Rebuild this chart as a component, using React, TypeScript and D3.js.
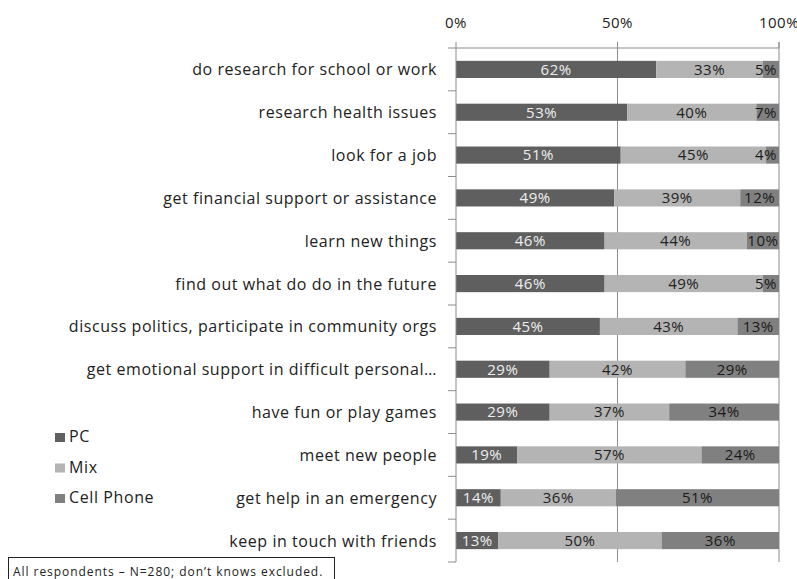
import * as React from 'react';
import {useEffect, useRef} from 'react';
import * as d3 from 'd3';

const categories = [
  'do research for school or work',
  'research health issues',
  'look for a job',
  'get financial support or assistance',
  'learn new things',
  'find out what do do in the future',
  'discuss politics, participate in community orgs',
  'get emotional support in difficult personal…',
  'have fun or play games',
  'meet new people',
  'get help in an emergency',
  'keep in touch with friends',
];

const pcValues = [62, 53, 51, 49, 46, 46, 45, 29, 29, 19, 14, 13];
const mixValues = [33, 40, 45, 39, 44, 49, 43, 42, 37, 57, 36, 50];
const cellValues = [5, 7, 4, 12, 10, 5, 13, 29, 34, 24, 51, 36];

const seriesNames = ['PC', 'Mix', 'Cell Phone'];
const seriesKeys = ['pc', 'mix', 'cell'];
const tickValues = [0, 0.5, 1];

const colors: Record<string, string> = {pc: '#5f5f5f', mix: '#b4b4b4', cell: '#808080'};
const labelColors: Record<string, string> = {pc: '#eeeeee', mix: '#222222', cell: '#1a1a1a'};

const W = 797;
const H = 579;
const FONT = '"Open Sans", "Liberation Sans", sans-serif';

const App = () => {
  const ref = useRef<SVGSVGElement>(null);

  useEffect(() => {
    const svg = d3.select(ref.current);
    svg.selectAll('*').remove();

    const rows = categories.map((c, i) => ({
      cat: c, pc: pcValues[i], mix: mixValues[i], cell: cellValues[i],
    }));

    const x = d3.scaleLinear().domain([0, 1]).range([456, 779]);
    const y = d3.scaleBand().domain(categories).range([48, 562]).paddingInner(0.6).paddingOuter(0.3);
    const band = d3.scaleBand().domain(categories).range([48, 562]);

    const stack = d3.stack<any>().keys(seriesKeys).offset(d3.stackOffsetExpand);
    const layers = stack(rows);

    const g = svg.append('g');

    // gridlines
    g.selectAll('line.grid')
      .data(tickValues.slice(1))
      .join('line')
      .attr('x1', d => x(d)).attr('x2', d => x(d))
      .attr('y1', 42).attr('y2', 562)
      .attr('stroke', '#8c8c8c').attr('stroke-width', 1);

    // bars
    layers.forEach(layer => {
      const key = layer.key;
      g.append('g')
        .selectAll('rect')
        .data(layer)
        .join('rect')
        .attr('x', d => x(d[0]))
        .attr('width', d => x(d[1]) - x(d[0]))
        .attr('y', d => y(d.data.cat)!)
        .attr('height', y.bandwidth())
        .attr('fill', colors[key]);

      g.append('g')
        .selectAll('text')
        .data(layer)
        .join('text')
        .attr('x', d => {
          const cx = (x(d[0]) + x(d[1])) / 2;
          return Math.min(cx, 779 - 13);
        })
        .attr('y', d => y(d.data.cat)! + y.bandwidth() / 2)
        .attr('dy', '0.36em')
        .attr('text-anchor', 'middle')
        .attr('font-family', FONT)
        .attr('font-size', 15)
        .attr('letter-spacing', 0.5)
        .attr('fill', labelColors[key])
        .text(d => `${d.data[key]}%`);
    });

    // top axis
    const axis = svg.append('g');
    axis.append('line')
      .attr('x1', 448).attr('x2', x(1))
      .attr('y1', 48).attr('y2', 48)
      .attr('stroke', '#8c8c8c');
    axis.selectAll('line.tick')
      .data(tickValues)
      .join('line')
      .attr('x1', d => x(d)).attr('x2', d => x(d))
      .attr('y1', 42).attr('y2', 48)
      .attr('stroke', '#8c8c8c');
    axis.selectAll('text')
      .data(tickValues)
      .join('text')
      .attr('x', d => x(d))
      .attr('y', 28)
      .attr('text-anchor', 'middle')
      .attr('font-family', FONT)
      .attr('font-size', 15)
      .attr('letter-spacing', 0.5)
      .attr('fill', '#222')
      .text(d => d3.format('.0%')(d));

    // left axis
    axis.append('line')
      .attr('x1', x(0)).attr('x2', x(0))
      .attr('y1', 48).attr('y2', 562)
      .attr('stroke', '#8c8c8c');
    axis.selectAll('line.ytick')
      .data(categories)
      .join('line')
      .attr('x1', 448).attr('x2', x(0))
      .attr('y1', d => band(d)! + band.bandwidth()).attr('y2', d => band(d)! + band.bandwidth())
      .attr('stroke', '#8c8c8c');

    // category labels
    svg.append('g')
      .selectAll('text')
      .data(categories)
      .join('text')
      .attr('x', 437)
      .attr('y', d => y(d)! + y.bandwidth() / 2)
      .attr('dy', '0.38em')
      .attr('text-anchor', 'end')
      .attr('font-family', FONT)
      .attr('font-size', 16)
      .attr('letter-spacing', 0.55)
      .attr('fill', '#222')
      .text(d => d);

    // legend
    const legend = svg.append('g');
    seriesKeys.forEach((k, i) => {
      const ly = 442 + i * 30.5;
      legend.append('rect')
        .attr('x', 55).attr('y', ly - 9)
        .attr('width', 10).attr('height', 9)
        .attr('fill', colors[k]);
      legend.append('text')
        .attr('x', 69).attr('y', ly)
        .attr('font-family', FONT)
        .attr('font-size', 16)
        .attr('letter-spacing', 0.6)
        .attr('fill', '#222')
        .text(seriesNames[i]);
    });

    // note box
    const note = svg.append('g');
    note.append('rect')
      .attr('x', 8.5).attr('y', 557.5)
      .attr('width', 326).attr('height', 30)
      .attr('fill', 'white').attr('stroke', '#222');
    note.append('text')
      .attr('x', 13).attr('y', 576)
      .attr('font-family', FONT)
      .attr('font-size', 12)
      .attr('letter-spacing', 0.95)
      .attr('fill', '#222')
      .text('All respondents \u2013 N=280; don\u2019t knows excluded.');
  }, []);

  return (
    <svg ref={ref} width={W} height={H}
      style={{position: 'absolute', left: 0, top: 0, background: 'white'}}/>
  );
};

export default App;
